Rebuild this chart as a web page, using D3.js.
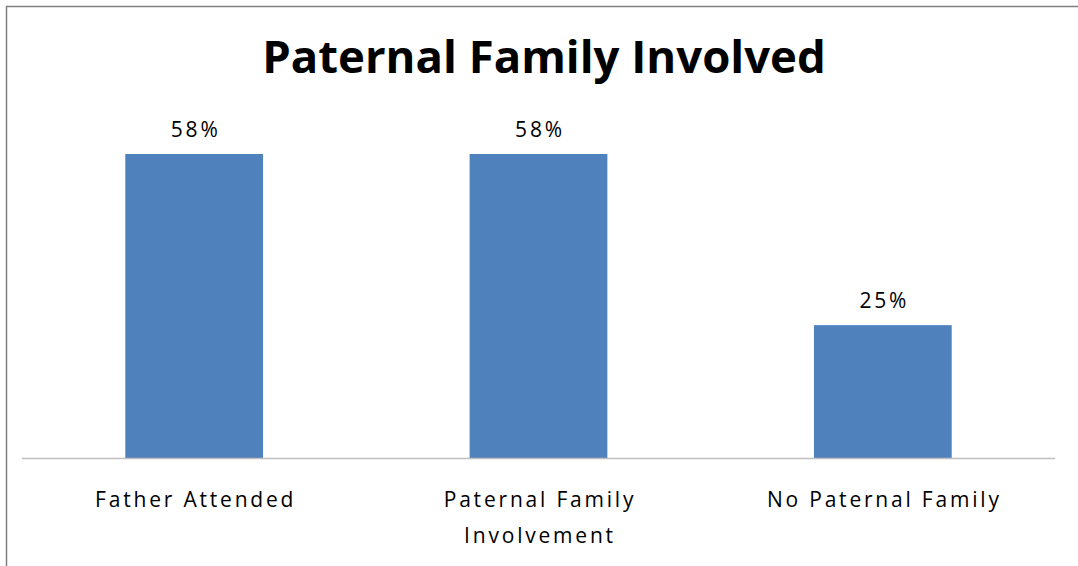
<!DOCTYPE html>
<html>
<head>
<meta charset="utf-8">
<script src="https://cdn.jsdelivr.net/npm/d3@7"></script>
<style>
  body { margin: 0; background: #fff; }
  text { font-family: "Open Sans", sans-serif; fill: #000; }
</style>
</head>
<body>
<div id="chart"></div>
<script>
var w = 1078;
var h = 566;

// data
var categories = [["Father Attended"], ["Paternal Family", "Involvement"], ["No Paternal Family"]];
var values = [0.58, 0.58, 0.254];
var title = "Paternal Family Involved";

var svg = d3.select("#chart")
    .append("svg")
    .attr("width", w)
    .attr("height", h);

// outer frame (only top + left edges fall inside the picture)
svg.append("rect")
    .attr("x", 6.5)
    .attr("y", 6.5)
    .attr("width", w + 20)
    .attr("height", h + 20)
    .attr("fill", "#fff")
    .attr("stroke", "#808080")
    .attr("stroke-width", 1.5);

var x = d3.scaleBand()
    .domain(d3.range(values.length))
    .range([22, 1055])
    .paddingInner(0.6)
    .paddingOuter(0.3);

var y = d3.scaleLinear()
    .domain([0, 0.58])
    .range([458.5, 154]);

svg.append("text")
    .attr("x", 544)
    .attr("y", 73)
    .attr("text-anchor", "middle")
    .style("font-weight", "bold")
    .style("font-size", "45.5px")
    .text(title);

svg.selectAll("rect.bar")
    .data(values)
    .enter()
    .append("rect")
    .attr("class", "bar")
    .attr("x", function (d, i) { return x(i); })
    .attr("y", function (d) { return y(d); })
    .attr("width", x.bandwidth())
    .attr("height", function (d) { return y(0) - y(d); })
    .attr("fill", "#4F81BD");

svg.selectAll("text.val")
    .data(values)
    .enter()
    .append("text")
    .attr("class", "val")
    .attr("x", function (d, i) { return x(i) + x.bandwidth() / 2 + 1.5; })
    .attr("y", function (d) { return y(d) - 17; })
    .attr("text-anchor", "middle")
    .style("font-size", "21px")
    .style("letter-spacing", "2.8px")
    .text(function (d) { return Math.round(d * 100) + "%"; });

// baseline
svg.append("line")
    .attr("x1", 22)
    .attr("x2", 1055)
    .attr("y1", y(0))
    .attr("y2", y(0))
    .attr("stroke", "#BFBFBF")
    .attr("stroke-width", 1.5);

var labels = svg.selectAll("text.cat")
    .data(categories)
    .enter()
    .append("text")
    .attr("class", "cat")
    .attr("x", function (d, i) { return x(i) + x.bandwidth() / 2 + 1.5; })
    .attr("y", 507)
    .attr("text-anchor", "middle")
    .style("font-size", "21px")
    .style("letter-spacing", "2.8px");

labels.selectAll("tspan")
    .data(function (d) { return d; })
    .enter()
    .append("tspan")
    .attr("x", function () { return d3.select(this.parentNode).attr("x"); })
    .attr("dy", function (d, i) { return i === 0 ? 0 : 36; })
    .text(function (d) { return d; });
</script>
</body>
</html>
